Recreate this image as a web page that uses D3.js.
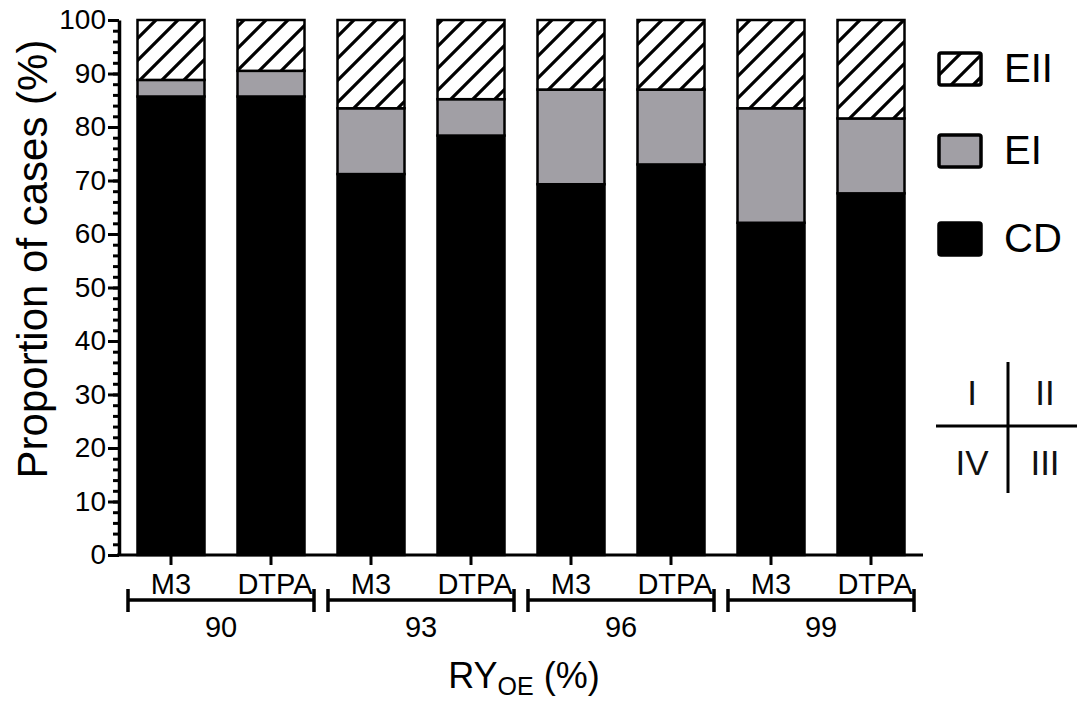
<!DOCTYPE html>
<html>
<head>
<meta charset="utf-8">
<script src="https://cdn.jsdelivr.net/npm/d3@7"></script>
<style>
  body { margin: 0; background: #fff; }
  svg { display: block; font-family: "Liberation Sans", Arial, sans-serif; }
</style>
</head>
<body>
<svg id="chart" width="1077" height="707"></svg>
<script>
// data
var groups = ['90', '93', '96', '99'];
var methods = ['M3', 'DTPA'];
var cdVals  = [85.7, 85.7, 71.2, 78.4, 69.3, 73.0, 62.1, 67.6];
var eiVals  = [3.1, 4.8, 12.3, 6.8, 17.7, 14.0, 21.4, 14.0];
var eiiVals = [11.2, 9.5, 16.5, 14.8, 13.0, 13.0, 16.5, 18.4];
var yTicks = [0, 10, 20, 30, 40, 50, 60, 70, 80, 90, 100];
var series = ['CD', 'EI', 'EII'];
var legendOrder = ['EII', 'EI', 'CD'];
var quadLabels = ['I', 'II', 'IV', 'III'];

var GREY = '#a19fa5';

// build rows for the stack
var rows = [];
groups.forEach(function(g, gi) {
  methods.forEach(function(m, mi) {
    var i = gi * methods.length + mi;
    rows.push({ key: g + '-' + m, group: g, method: m, CD: cdVals[i], EI: eiVals[i], EII: eiiVals[i] });
  });
});

var svg = d3.select('#chart');

var x = d3.scaleBand()
  .domain(rows.map(function(d) { return d.key; }))
  .range([121, 921])
  .paddingInner(0.33)
  .paddingOuter(0.165);

var y = d3.scaleLinear().domain([0, 100]).range([555, 20]);

// hatch pattern for EII
var defs = svg.append('defs');
var pat = defs.append('pattern')
  .attr('id', 'hatch')
  .attr('patternUnits', 'userSpaceOnUse')
  .attr('width', 22).attr('height', 22);
pat.append('rect').attr('width', 22).attr('height', 22).attr('fill', '#fff');
pat.append('path')
  .attr('d', 'M-2,24 L24,-2 M-13,13 L13,-13 M9,35 L35,9')
  .attr('stroke', '#000').attr('stroke-width', 3.2);

function fillFor(k) {
  if (k === 'CD') return '#000';
  if (k === 'EI') return GREY;
  return 'url(#hatch)';
}

var stacked = d3.stack().keys(series)(rows);

svg.append('g').selectAll('g')
  .data(stacked)
  .join('g')
  .attr('fill', function(s) { return fillFor(s.key); })
  .selectAll('rect')
  .data(function(s) { return s; })
  .join('rect')
  .attr('x', function(d) { return x(d.data.key); })
  .attr('y', function(d) { return y(d[1]); })
  .attr('width', x.bandwidth())
  .attr('height', function(d) { return y(d[0]) - y(d[1]); })
  .attr('stroke', '#000')
  .attr('stroke-width', 2.5);

// y axis (major + minor)
var yMinor = d3.range(0, 101, 2);
svg.append('g')
  .attr('transform', 'translate(119,0)')
  .call(d3.axisLeft(y).tickValues(yMinor).tickSize(6).tickFormat(''))
  .call(function(g) { g.select('.domain').remove(); })
  .selectAll('line').attr('stroke-width', 3);

var yAxis = svg.append('g')
  .attr('transform', 'translate(119,0)')
  .call(d3.axisLeft(y).tickValues(yTicks).tickSize(11).tickSizeOuter(0).tickPadding(2));
yAxis.select('.domain').attr('stroke-width', 3.5);
yAxis.selectAll('.tick line').attr('stroke-width', 3);
yAxis.selectAll('.tick text')
  .attr('font-size', 28)
  .attr('font-family', '"Liberation Sans", Arial, sans-serif')
  .attr('fill', '#000');

// x axis baseline with ticks at each bar
var xAxis = svg.append('g')
  .attr('transform', 'translate(0,555)')
  .call(d3.axisBottom(x).tickSize(10).tickSizeOuter(0).tickFormat(''));
xAxis.select('.domain').attr('d', 'M117,0H923').attr('stroke-width', 3);
xAxis.selectAll('.tick line').attr('stroke-width', 3);

// method labels under each bar
svg.append('g').selectAll('text')
  .data(rows)
  .join('text')
  .attr('x', function(d) { return x(d.key) + x.bandwidth() / 2 + (d.method === 'DTPA' ? 4 : 0); })
  .attr('y', 594)
  .attr('text-anchor', 'middle')
  .attr('font-size', 29)
  .text(function(d) { return d.method; });

// group brackets
var grp = svg.append('g').selectAll('g')
  .data(groups)
  .join('g')
  .attr('transform', function(g) {
    var first = x(g + '-' + methods[0]);
    var last = x(g + '-' + methods[methods.length - 1]) + x.bandwidth();
    return 'translate(' + ((first + last) / 2) + ',0)';
  });
grp.append('path')
  .attr('d', 'M-93,600H93M-93,589V612M93,589V612')
  .attr('fill', 'none')
  .attr('stroke', '#000')
  .attr('stroke-width', 3.5);
grp.append('text')
  .attr('y', 637)
  .attr('text-anchor', 'middle')
  .attr('font-size', 29)
  .text(function(g) { return g; });

// axis titles
var xt = svg.append('text')
  .attr('x', 524).attr('y', 688)
  .attr('text-anchor', 'middle')
  .attr('font-size', 36);
xt.append('tspan').text('RY');
xt.append('tspan').attr('font-size', 25).attr('dy', 7).text('OE');
xt.append('tspan').attr('dy', -7).text(' (%)');

svg.append('text')
  .attr('transform', 'translate(47,259) rotate(-90)')
  .attr('text-anchor', 'middle')
  .attr('font-size', 42)
  .text('Proportion of cases (%)');

// legend
var legY = { EII: 53, EI: 135, CD: 223 };
var leg = svg.append('g').selectAll('g')
  .data(legendOrder)
  .join('g')
  .attr('transform', function(k) { return 'translate(939,' + legY[k] + ')'; });
leg.append('rect')
  .attr('width', 42).attr('height', 32)
  .attr('rx', 2)
  .attr('fill', function(k) { return fillFor(k); })
  .attr('stroke', '#000')
  .attr('stroke-width', 3.5);
leg.append('text')
  .attr('x', 65).attr('y', 29)
  .attr('font-size', 40)
  .text(function(k) { return k; });

// quadrant key
var q = svg.append('g');
q.append('path')
  .attr('d', 'M1008,362V493M936,426H1077')
  .attr('stroke', '#000')
  .attr('stroke-width', 3);
var qPos = [[972, 405], [1045, 405], [972, 475], [1045, 475]];
q.selectAll('text')
  .data(quadLabels)
  .join('text')
  .attr('x', function(d, i) { return qPos[i][0]; })
  .attr('y', function(d, i) { return qPos[i][1]; })
  .attr('text-anchor', 'middle')
  .attr('font-size', 35)
  .attr('fill', '#111')
  .text(function(d) { return d; });
</script>
</body>
</html>
